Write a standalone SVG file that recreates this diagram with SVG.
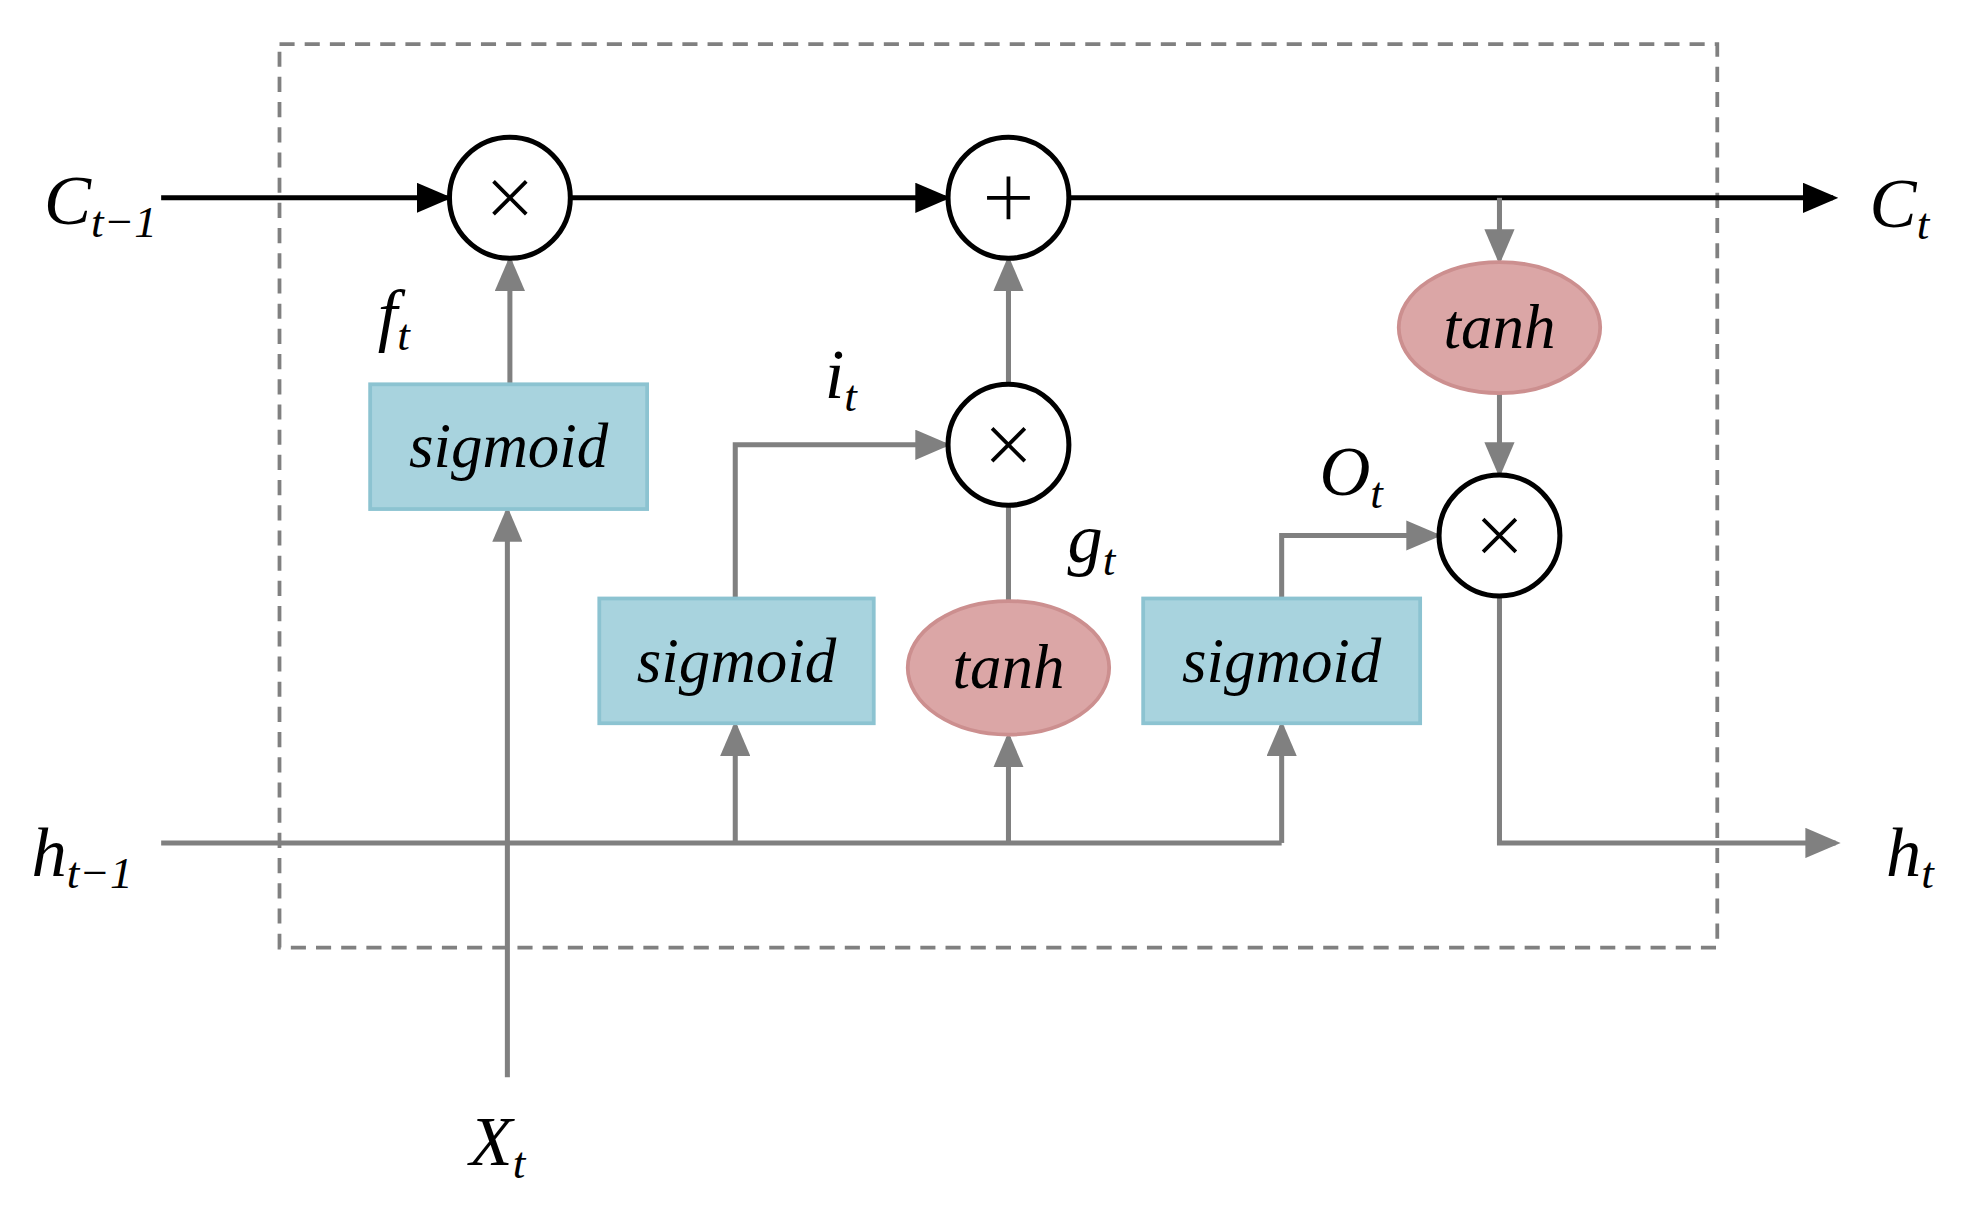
<svg xmlns="http://www.w3.org/2000/svg" width="1968" height="1212" viewBox="0 0 1968 1212">
<style>
.g{stroke:#808080;stroke-width:4;fill:none}
.k{stroke:#000;stroke-width:4;fill:none}
.op{fill:#fff;stroke:#000;stroke-width:4}
.sig{fill:#a8d3de;stroke:#8cc3d1;stroke-width:3}
.th{fill:#dba6a6;stroke:#cc8f8f;stroke-width:3}
.x{stroke:#000;stroke-width:3;fill:none}
text{font-family:"Liberation Serif",serif;font-style:italic;fill:#000}
.lb{font-size:50px;text-anchor:middle}
.v{font-size:56px}
.s{font-size:36px}
</style>
<defs>
<marker id="ag" markerWidth="7" markerHeight="6" refX="6" refY="3" orient="auto" markerUnits="strokeWidth"><path d="M0,0L7,3L0,6z" fill="#808080"/></marker>
<marker id="ak" markerWidth="7" markerHeight="6" refX="6" refY="3" orient="auto" markerUnits="strokeWidth"><path d="M0,0L7,3L0,6z" fill="#000"/></marker>
</defs>
<rect width="1968" height="1212" fill="#fff"/>
<g transform="scale(1.259,1.26)">
<rect x="222" y="35" width="1142" height="717" fill="none" stroke="#808080" stroke-width="3" stroke-dasharray="12,8"/>
<g id="connectors">
<path class="k" d="M128,157H355" marker-end="url(#ak)"/>
<path class="k" d="M453,157H751" marker-end="url(#ak)"/>
<path class="k" d="M849,157H1456" marker-end="url(#ak)"/>
<path class="g" d="M128,669H1018"/>
<path class="g" d="M403,855V406" marker-end="url(#ag)"/>
<path class="g" d="M405,305V207" marker-end="url(#ag)"/>
<path class="g" d="M584,669V576" marker-end="url(#ag)"/>
<path class="g" d="M801,669V585" marker-end="url(#ag)"/>
<path class="g" d="M1018,669V576" marker-end="url(#ag)"/>
<path class="g" d="M584,475V353H751" marker-end="url(#ag)"/>
<path class="g" d="M801,477V401"/>
<path class="g" d="M801,305V207" marker-end="url(#ag)"/>
<path class="g" d="M1018,475V425H1141" marker-end="url(#ag)"/>
<path class="g" d="M1191,157V206" marker-end="url(#ag)"/>
<path class="g" d="M1191,312V375" marker-end="url(#ag)"/>
<path class="g" d="M1191,473V669H1458" marker-end="url(#ag)"/>
</g>
<g id="mul1"><circle class="op" cx="405" cy="157" r="48"/><path class="x" d="M392,144l26,26M418,144l-26,26"/></g>
<g id="add"><circle class="op" cx="801" cy="157" r="48"/><path class="x" d="M801,140v34M784,157h34"/></g>
<g id="mul2"><circle class="op" cx="801" cy="353" r="48"/><path class="x" d="M788,340l26,26M814,340l-26,26"/></g>
<g id="mul3"><circle class="op" cx="1191" cy="425" r="48"/><path class="x" d="M1178,412l26,26M1204,412l-26,26"/></g>
<g id="sig1"><rect class="sig" x="294" y="305" width="220" height="99"/><text class="lb" x="404" y="371">sigmoid</text></g>
<g id="sig2"><rect class="sig" x="476" y="475" width="218" height="99"/><text class="lb" x="585" y="541">sigmoid</text></g>
<g id="sig3"><rect class="sig" x="908" y="475" width="220" height="99"/><text class="lb" x="1018" y="541">sigmoid</text></g>
<g id="tanh1"><ellipse class="th" cx="801" cy="530" rx="80" ry="53"/><text class="lb" x="801" y="546">tanh</text></g>
<g id="tanh2"><ellipse class="th" cx="1191" cy="260" rx="80" ry="52"/><text class="lb" x="1191" y="276">tanh</text></g>
<g id="labels">
<text class="v" x="35" y="178">C<tspan class="s" dy="10">t−1</tspan></text>
<text class="v" x="1485" y="180">C<tspan class="s" dy="10">t</tspan></text>
<text class="v" x="25" y="695">h<tspan class="s" dy="10">t−1</tspan></text>
<text class="v" x="1498" y="695">h<tspan class="s" dy="10">t</tspan></text>
<text class="v" x="373" y="925">X<tspan class="s" dy="10">t</tspan></text>
<text class="v" x="300" y="268">f<tspan class="s" dy="10">t</tspan></text>
<text class="v" x="655" y="316">i<tspan class="s" dy="10">t</tspan></text>
<text class="v" x="848" y="446">g<tspan class="s" dy="10">t</tspan></text>
<text class="v" x="1048" y="393">O<tspan class="s" dy="10">t</tspan></text>
</g>
</g>
</svg>
